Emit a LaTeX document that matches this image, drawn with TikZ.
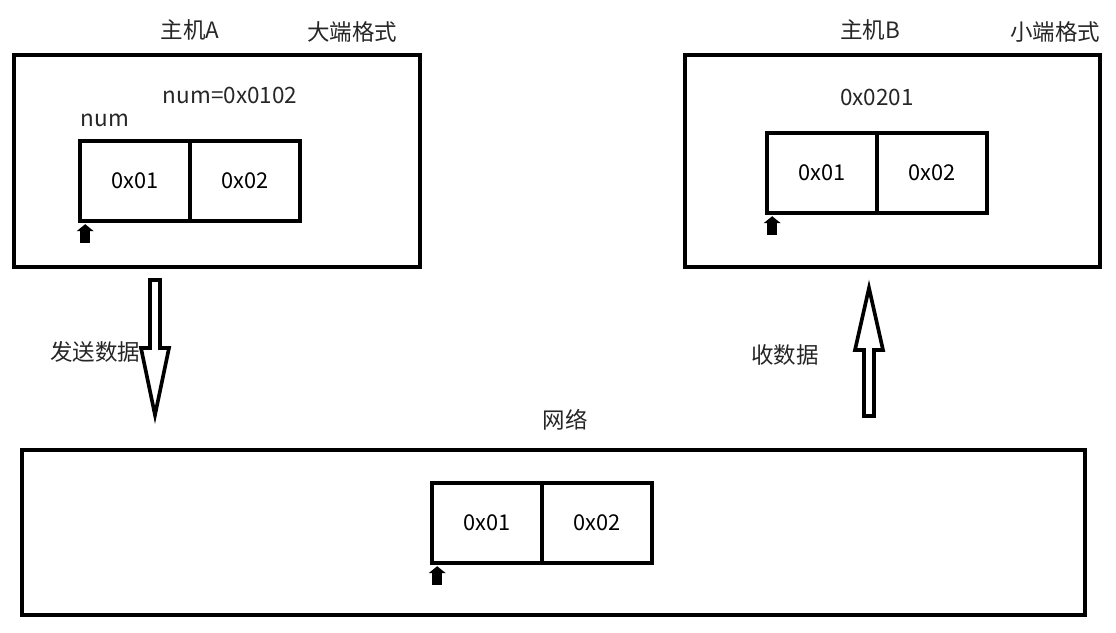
\documentclass[tikz,border=0pt]{standalone}
\usepackage{fontspec}
\setmainfont{Noto Sans CJK SC}
\usetikzlibrary{arrows.meta,positioning,calc}
\tikzstyle{host}=[rectangle,draw,line width=2.6pt,inner sep=0pt,outer sep=0pt]
\tikzstyle{cell}=[rectangle,draw,line width=2.6pt,minimum width=2.75cm,minimum height=2cm,inner sep=0pt,outer sep=0pt,font=\fontsize{15.5}{18}\selectfont]
\tikzstyle{lbl}=[font=\fontsize{16}{18}\selectfont,text=black!85,inner sep=1pt]
\tikzstyle{ptr}=[line width=7pt,-{Triangle[width=12pt,length=5pt]}]
\tikzstyle{hollow}=[draw,line width=2.6pt,line join=miter,fill=white]

\begin{document}
\begin{tikzpicture}
\useasboundingbox (0,0) rectangle (27.9,-15.825);
% hosts and network
\node[host,minimum width=10.15cm,minimum height=5.3cm] (hostA) at (5.425,-4.025) {};
\node[host,minimum width=10.375cm,minimum height=5.3cm] (hostB) at (22.3125,-4.025) {};
\node[host,minimum width=26.575cm,minimum height=4.125cm] (net) at (13.8375,-13.3125) {};
% labels
\node[lbl] (nameA) at (4.75,-0.75) {主机A};
\node[lbl] (fmtA) at (8.8,-0.8) {大端格式};
\node[lbl] (nameB) at (21.75,-0.75) {主机B};
\node[lbl] (fmtB) at (26.375,-0.8) {小端格式};
\node[lbl] (valA) at (5.75,-2.375) {num=0x0102};
\node[lbl] (varA) at (2.625,-3.0) {num};
\node[lbl] (valB) at (21.925,-2.425) {0x0201};
\node[lbl] (netname) at (14.125,-10.5) {网络};
\node[lbl] (send) at (2.375,-8.8) {发送数据};
\node[lbl] (recv) at (19.625,-8.875) {收数据};
% memory cells
\node[cell,anchor=north west] (a1) at (2.0,-3.525) {0x01};
\node[cell,anchor=west] (a2) at (a1.east) {0x02};
\node[cell,anchor=north west] (b1) at (19.175,-3.325) {0x01};
\node[cell,anchor=west] (b2) at (b1.east) {0x02};
\node[cell,anchor=north west] (n1) at (10.8,-12.075) {0x01};
\node[cell,anchor=west] (n2) at (n1.east) {0x02};
% address pointers
\coordinate (pa) at ($(a1.south west)+(0.13,-0.55)$);
\coordinate (pb) at ($(b1.south west)+(0.13,-0.55)$);
\coordinate (pn) at ($(n1.south west)+(0.13,-0.55)$);
\draw[ptr] (pa) -- ($(a1.south west)+(0.13,-0.08)$);
\draw[ptr] (pb) -- ($(b1.south west)+(0.13,-0.08)$);
\draw[ptr] (pn) -- ($(n1.south west)+(0.13,-0.08)$);
% send / receive arrows
\coordinate (sendtop) at (3.875,-7.0);
\coordinate (sendtip) at (3.875,-10.375);
\draw[hollow] ($(sendtop)+(-0.125,0)$) -- ($(sendtop)+(0.125,0)$) -- ($(sendtop)+(0.125,-1.7)$)
  -- ($(sendtop)+(0.35,-1.7)$) -- (sendtip) -- ($(sendtop)+(-0.35,-1.7)$)
  -- ($(sendtop)+(-0.125,-1.7)$) -- cycle;
\coordinate (recvbot) at (21.725,-10.4);
\coordinate (recvtip) at (21.725,-7.2);
\draw[hollow] ($(recvbot)+(-0.125,0)$) -- ($(recvbot)+(0.125,0)$) -- ($(recvbot)+(0.125,1.65)$)
  -- ($(recvbot)+(0.35,1.65)$) -- (recvtip) -- ($(recvbot)+(-0.35,1.65)$)
  -- ($(recvbot)+(-0.125,1.65)$) -- cycle;
\end{tikzpicture}
\end{document}
